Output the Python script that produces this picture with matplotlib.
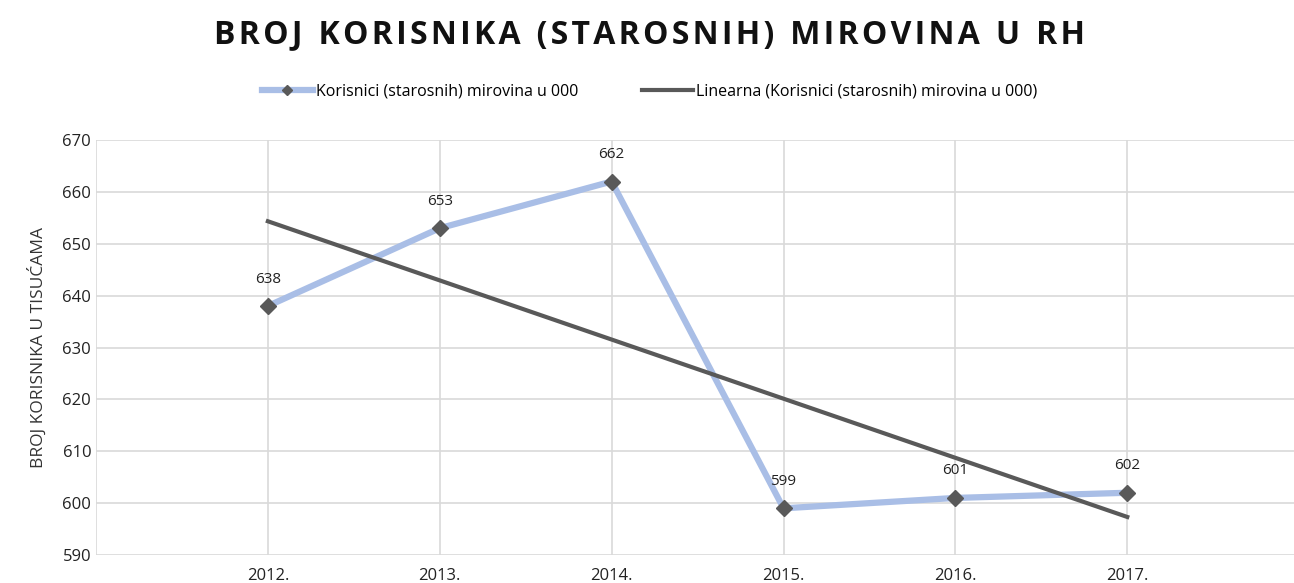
import numpy as np
import matplotlib.pyplot as plt

# data
years = ["2012.", "2013.", "2014.", "2015.", "2016.", "2017."]
korisnici = [638, 653, 662, 599, 601, 602]

plt.rcParams['font.family'] = ['Open Sans', 'DejaVu Sans']

fig = plt.figure(figsize=(12.94, 5.83), dpi=100)
ax = fig.add_axes([96 / 1294, 1 - 555 / 583, (1294 - 96) / 1294, (555 - 140) / 583])

x = np.arange(len(years))
blue = '#A9BEE6'
grey = '#595959'

ax.plot(x, korisnici, color=blue, lw=4.5, marker='D', ms=8,
        mfc=grey, mec=grey, label="Korisnici (starosnih) mirovina u 000", zorder=3)

# linear trend (Excel-style "Linearna")
k, b = np.polyfit(x, korisnici, 1)
ax.plot(x, k * x + b, color=grey, lw=3, label="Linearna (Korisnici (starosnih) mirovina u 000)", zorder=4)

for xi, v in zip(x, korisnici):
    ax.annotate(str(v), (xi, v), xytext=(0, 14), textcoords='offset points',
                ha='center', va='bottom', fontsize=11, color='#222222')

ax.set_ylim(590, 670)
ax.set_yticks(range(590, 671, 10))
ax.set_xlim(-1, 5.97)
ax.set_xticks(x)
ax.set_xticklabels(years)
ax.set_xticks(np.arange(-1, 6), minor=True)
ax.grid(True, which='major', axis='y', color='#D9D9D9', lw=1.2)
ax.grid(True, which='minor', axis='x', color='#D9D9D9', lw=1.2)
ax.grid(True, which='major', axis='x', color='#D9D9D9', lw=1.2)
ax.tick_params(length=0, labelsize=12, colors='#222222', which='both')
ax.tick_params(axis='x', pad=9)
for s in ax.spines.values():
    s.set_visible(False)
ax.set_axisbelow(True)

ax.set_ylabel("BROJ KORISNIKA U TISUĆAMA", fontsize=12.5, color='#333333', labelpad=11)

fig.text(0.502, 1 - 35 / 583, "B R O J   K O R I S N I K A   ( S T A R O S N I H )   M I R O V I N A   U   R H".replace("   ", "\u2002").replace(" ", "\u200a"),
         ha='center', va='center', fontsize=23, fontweight='bold', color='#111111')

fig.legend(loc='center', bbox_to_anchor=(0.502, 1 - 92 / 583), ncol=2, frameon=False,
           fontsize=11.5, handlelength=3.2, columnspacing=4, handletextpad=0.2, markerscale=0.6)

fig.savefig("out.png", dpi=100)
